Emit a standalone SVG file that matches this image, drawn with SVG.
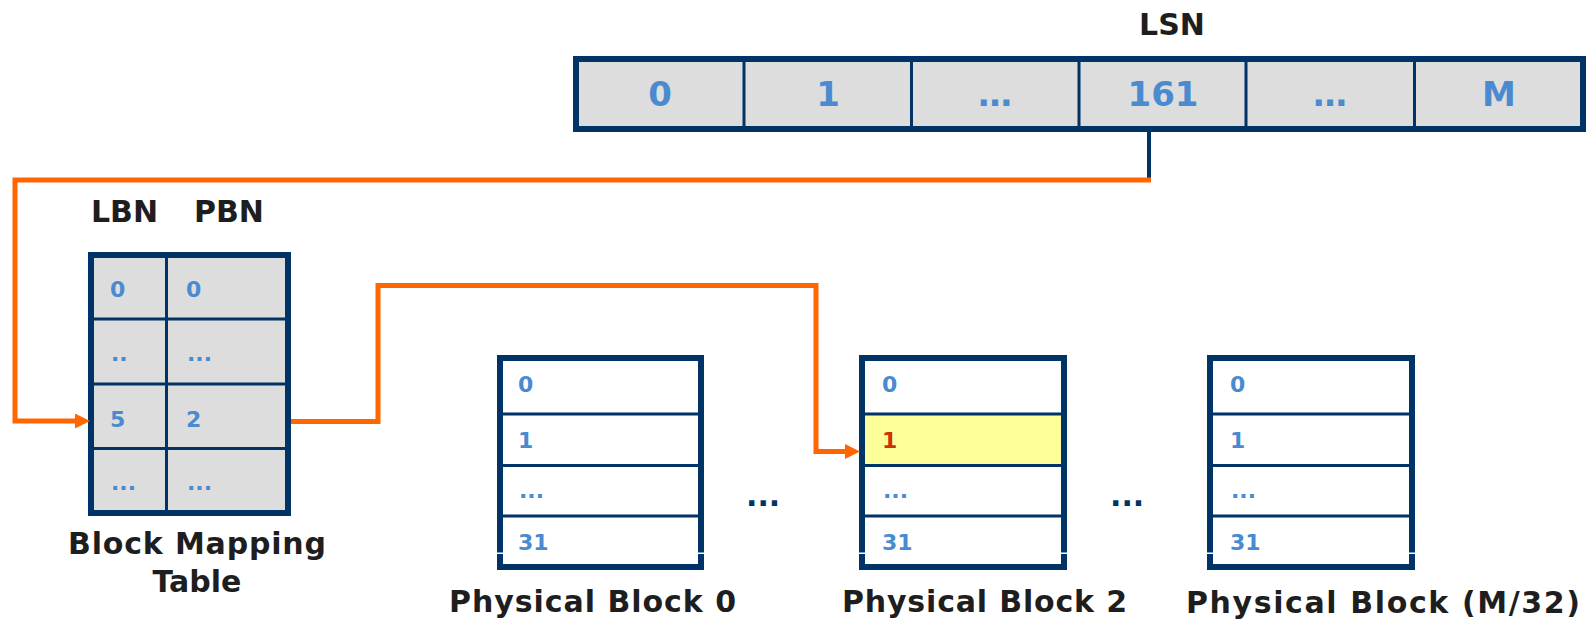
<svg xmlns="http://www.w3.org/2000/svg" width="1587" height="622" viewBox="0 0 1587 622">
<style>
.lbl{font-family:"DejaVu Sans","Liberation Sans",sans-serif;font-weight:bold;font-size:30px;fill:#1e1e1e}
.num{font-family:"DejaVu Sans","Liberation Sans",sans-serif;font-weight:bold;font-size:22px;fill:#4a8bd0}
.big{font-family:"DejaVu Sans","Liberation Sans",sans-serif;font-weight:bold;font-size:34px;fill:#4a8bd0;text-anchor:middle}
.frame{stroke:#003366;stroke-width:6;fill:none}
.div{stroke:#003366;stroke-width:3}
.orange{stroke:#ff6600;stroke-width:5;fill:none}
.dots{font-family:"DejaVu Sans","Liberation Sans",sans-serif;font-weight:bold;font-size:30px;fill:#003366}
</style>
<defs>
<marker id="arr" markerUnits="userSpaceOnUse" markerWidth="15" markerHeight="15" refX="0" refY="7.5" orient="auto">
<path d="M0,0 L15,7.5 L0,15 z" fill="#ff6600"/>
</marker>
</defs>

<g id="lsn">
<text class="lbl" x="1172" y="35" text-anchor="middle">LSN</text>
<rect x="576" y="59" width="1007" height="70" fill="#dddddd"/>
<line class="div" x1="744" y1="59" x2="744" y2="129"/>
<line class="div" x1="911.5" y1="59" x2="911.5" y2="129"/>
<line class="div" x1="1079" y1="59" x2="1079" y2="129"/>
<line class="div" x1="1246" y1="59" x2="1246" y2="129"/>
<line class="div" x1="1414.5" y1="59" x2="1414.5" y2="129"/>
<rect class="frame" x="576" y="59" width="1007" height="70"/>
<text class="big" x="660" y="106">0</text>
<text class="big" x="828" y="106">1</text>
<text class="big" x="995" y="106">…</text>
<text class="big" x="1163" y="106">161</text>
<text class="big" x="1330" y="106">…</text>
<text class="big" x="1499" y="106">M</text>
</g>

<g id="mapping-table">
<text class="lbl" x="91" y="222">LBN</text>
<text class="lbl" x="194" y="222">PBN</text>
<rect x="91" y="255" width="197" height="258" fill="#dddddd"/>
<line class="div" x1="166.5" y1="255" x2="166.5" y2="513"/>
<line class="div" x1="91" y1="319" x2="288" y2="319"/>
<line class="div" x1="91" y1="384" x2="288" y2="384"/>
<line class="div" x1="91" y1="448.5" x2="288" y2="448.5"/>
<rect class="frame" x="91" y="255" width="197" height="258"/>
<text class="num" x="110" y="297">0</text>
<text class="num" x="186" y="297">0</text>
<text class="num" x="111" y="361">..</text>
<text class="num" x="187" y="361">...</text>
<text class="num" x="110" y="427">5</text>
<text class="num" x="186" y="427">2</text>
<text class="num" x="111" y="490">...</text>
<text class="num" x="187" y="490">...</text>
<text class="lbl" x="197" y="554" text-anchor="middle" textLength="258">Block Mapping</text>
<text class="lbl" x="197" y="592" text-anchor="middle">Table</text>
</g>

<g id="block0">
<rect x="500" y="358" width="201" height="209" fill="#ffffff"/>
<line class="div" x1="500" y1="414" x2="701" y2="414"/>
<line class="div" x1="500" y1="465.5" x2="701" y2="465.5"/>
<line class="div" x1="500" y1="516" x2="701" y2="516"/>
<rect class="frame" x="500" y="358" width="201" height="209"/>
<rect x="496" y="552.5" width="9" height="1.5" fill="#ffffff"/>
<rect x="696" y="552.5" width="9" height="1.5" fill="#ffffff"/>
<text class="num" x="518" y="392">0</text>
<text class="num" x="518" y="448">1</text>
<text class="num" x="519" y="498">...</text>
<text class="num" x="518" y="550">31</text>
<text class="lbl" x="449" y="612" textLength="287">Physical Block 0</text>
</g>

<text class="dots" x="746" y="506">...</text>

<g id="block2">
<rect x="862" y="358" width="202" height="209" fill="#ffffff"/>
<rect x="862" y="414" width="202" height="51.5" fill="#ffff99"/>
<line class="div" x1="862" y1="414" x2="1064" y2="414"/>
<line class="div" x1="862" y1="465.5" x2="1064" y2="465.5"/>
<line class="div" x1="862" y1="516" x2="1064" y2="516"/>
<rect class="frame" x="862" y="358" width="202" height="209"/>
<rect x="858" y="552.5" width="9" height="1.5" fill="#ffffff"/>
<rect x="1059" y="552.5" width="9" height="1.5" fill="#ffffff"/>
<text class="num" x="882" y="392">0</text>
<text class="num" x="882" y="448" style="fill:#cc3300">1</text>
<text class="num" x="883" y="498">...</text>
<text class="num" x="882" y="550">31</text>
<text class="lbl" x="842" y="612" textLength="285">Physical Block 2</text>
</g>

<text class="dots" x="1110" y="506">...</text>

<g id="blockM">
<rect x="1210" y="358" width="202" height="209" fill="#ffffff"/>
<line class="div" x1="1210" y1="414" x2="1412" y2="414"/>
<line class="div" x1="1210" y1="465.5" x2="1412" y2="465.5"/>
<line class="div" x1="1210" y1="516" x2="1412" y2="516"/>
<rect class="frame" x="1210" y="358" width="202" height="209"/>
<rect x="1206" y="552.5" width="9" height="1.5" fill="#ffffff"/>
<rect x="1407" y="552.5" width="9" height="1.5" fill="#ffffff"/>
<text class="num" x="1230" y="392">0</text>
<text class="num" x="1230" y="448">1</text>
<text class="num" x="1231" y="498">...</text>
<text class="num" x="1230" y="550">31</text>
<text class="lbl" x="1186" y="613" textLength="394">Physical Block (M/32)</text>
</g>

<g id="connectors">
<line x1="1149" y1="132" x2="1149" y2="182" stroke="#003366" stroke-width="4"/>
<path class="orange" d="M1151,180 H15 V421 H75" marker-end="url(#arr)"/>
<path class="orange" d="M291,421.5 H378 V285.5 H816 V451.5 H845" marker-end="url(#arr)"/>
</g>
</svg>
